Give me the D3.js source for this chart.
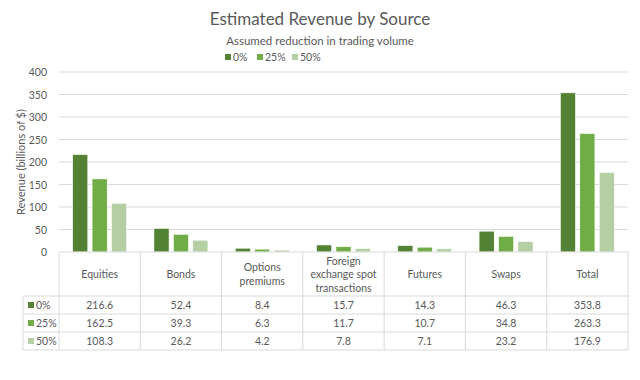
<!DOCTYPE html>
<html>
<head>
<meta charset="utf-8">
<title>Estimated Revenue by Source</title>
<script src="https://d3js.org/d3.v7.min.js"></script>
<style>
body { margin:0; background:#fff; font-family: Lato, 'Open Sans', sans-serif; }
text { fill:#595959; }
</style>
</head>
<body>
<script>
// data
var categories = ["Equities", "Bonds", "Options premiums", "Foreign exchange spot transactions", "Futures", "Swaps", "Total"];
var seriesNames = ["0%", "25%", "50%"];
var rev0 = [216.6, 52.4, 8.4, 15.7, 14.3, 46.3, 353.8];
var rev25 = [162.5, 39.3, 6.3, 11.7, 10.7, 34.8, 263.3];
var rev50 = [108.3, 26.2, 4.2, 7.8, 7.1, 23.2, 176.9];
var yTicks = [0, 50, 100, 150, 200, 250, 300, 350, 400];
var colors = ["#548235", "#70AD47", "#B4CFA4"];

var series = [rev0, rev25, rev50];
var W = 640, H = 380;
var pLeft = 59, pRight = 628, pTop = 72, base = 252;
var headH = 44, rowH = 18, labX = 23;

var svg = d3.select("body").append("svg").attr("width", W).attr("height", H);

// titles
svg.append("text").attr("x", 320).attr("y", 25).attr("text-anchor", "middle")
  .attr("font-size", 17).text("Estimated Revenue by Source");
svg.append("text").attr("x", 320).attr("y", 45).attr("text-anchor", "middle")
  .attr("font-size", 11.5).text("Assumed reduction in trading volume");

// legend
var legX = [225, 257, 292];
var leg = svg.append("g");
seriesNames.forEach(function(s, i){
  leg.append("rect").attr("x", legX[i]).attr("y", 54).attr("width", 6).attr("height", 6).attr("fill", colors[i]);
  leg.append("text").attr("x", legX[i] + 8).attr("y", 61).attr("font-size", 10.5).text(s);
});

var x = d3.scaleBand().domain(categories).range([pLeft, pRight]);
var y = d3.scaleLinear().domain([0, 400]).range([base, pTop]);
var xs = d3.scaleBand().domain(seriesNames).range([0, 54]).paddingInner(0.22);

// gridlines
svg.append("g").selectAll("line").data(yTicks.slice(1)).join("line")
  .attr("x1", pLeft).attr("x2", pRight)
  .attr("y1", function(d){ return y(d); }).attr("y2", function(d){ return y(d); })
  .attr("stroke", "#d9d9d9").attr("stroke-width", 1);

// y axis labels
svg.append("g").selectAll("text").data(yTicks).join("text")
  .attr("x", 47).attr("y", function(d){ return y(d) + 4; })
  .attr("text-anchor", "end").attr("font-size", 10.5).text(function(d){ return d; });

svg.append("text").attr("transform", "translate(25," + ((pTop + base) / 2) + ") rotate(-90)")
  .attr("text-anchor", "middle").attr("font-size", 11).text("Revenue (billions of $)");

// bars
series.forEach(function(vals, si){
  svg.append("g").selectAll("rect").data(vals).join("rect")
    .attr("x", function(d, i){ return x(categories[i]) + (x.bandwidth() - 54) / 2 + xs(seriesNames[si]); })
    .attr("y", function(d){ return y(d); })
    .attr("width", xs.bandwidth())
    .attr("height", function(d){ return base - y(d); })
    .attr("fill", colors[si]).attr("stroke", "#fff").attr("stroke-width", 0.6);
});

// data table
var tg = svg.append("g");
var gridC = "#d9d9d9";
var bottom = base + headH + rowH * 3;
// horizontal lines
tg.append("line").attr("x1", pLeft).attr("x2", pRight).attr("y1", base).attr("y2", base).attr("stroke", gridC);
[0, 1, 2, 3].forEach(function(r){
  var yy = base + headH + r * rowH;
  tg.append("line").attr("x1", labX).attr("x2", pRight).attr("y1", yy).attr("y2", yy).attr("stroke", gridC);
});
// vertical lines
categories.forEach(function(c){
  tg.append("line").attr("x1", x(c)).attr("x2", x(c)).attr("y1", base).attr("y2", bottom).attr("stroke", gridC);
});
tg.append("line").attr("x1", pRight).attr("x2", pRight).attr("y1", base).attr("y2", bottom).attr("stroke", gridC);
tg.append("line").attr("x1", labX).attr("x2", labX).attr("y1", base + headH).attr("y2", bottom).attr("stroke", gridC);

// header text with word wrap
categories.forEach(function(c){
  var words = c.split(" "), lines = [], cur = "";
  var t = tg.append("text").attr("font-size", 10.5).attr("text-anchor", "middle");
  words.forEach(function(w){
    var test = cur ? cur + " " + w : w;
    t.text(test);
    if (t.node().getComputedTextLength() > x.bandwidth() - 8 && cur) { lines.push(cur); cur = w; }
    else cur = test;
  });
  lines.push(cur);
  t.text(null);
  var lh = 13.5, cy = base + headH / 2 + 4 - (lines.length - 1) * lh / 2;
  lines.forEach(function(l, k){
    t.append("tspan").attr("x", x(c) + x.bandwidth() / 2).attr("y", cy + k * lh).text(l);
  });
});

// rows
series.forEach(function(vals, si){
  var yy = base + headH + si * rowH + rowH / 2 + 4;
  tg.append("rect").attr("x", 28).attr("y", yy - 7).attr("width", 6).attr("height", 6).attr("fill", colors[si]);
  tg.append("text").attr("x", 36).attr("y", yy).attr("font-size", 10.5).text(seriesNames[si]);
  vals.forEach(function(v, i){
    tg.append("text").attr("x", x(categories[i]) + x.bandwidth() / 2).attr("y", yy)
      .attr("text-anchor", "middle").attr("font-size", 10.5).text(v.toFixed(1));
  });
});
</script>
</body>
</html>
